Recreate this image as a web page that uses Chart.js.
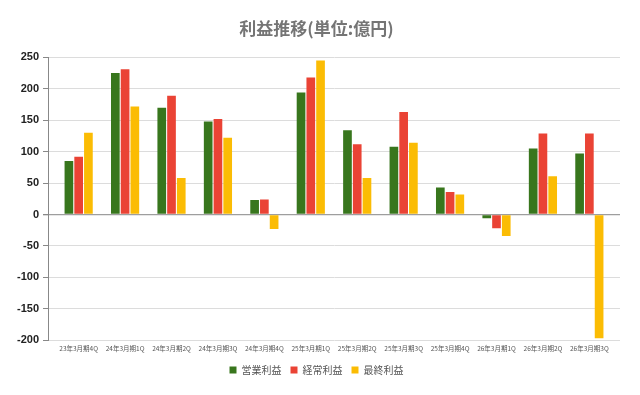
<!DOCTYPE html>
<html>
<head>
<meta charset="utf-8">
<script src="https://cdn.jsdelivr.net/npm/chart.js@4.4.1/dist/chart.umd.min.js"></script>
<style>
html,body{margin:0;padding:0;background:#fff;}
#wrap{width:640px;height:395px;}
</style>
</head>
<body>
<div id="wrap"><canvas id="c" width="640" height="395"></canvas></div>
<script>
const categories = ['23年3月期4Q','24年3月期1Q','24年3月期2Q','24年3月期3Q','24年3月期4Q','25年3月期1Q','25年3月期2Q','25年3月期3Q','25年3月期4Q','26年3月期1Q','26年3月期2Q','26年3月期3Q'];
const operatingProfit = [85, 225, 170, 148, 23, 194, 134, 108, 43, -6, 105, 97];
const ordinaryProfit = [92, 231, 189, 152, 24, 218, 112, 163, 36, -22, 129, 129];
const netProfit = [130, 172, 58, 122, -23, 245, 58, 114, 32, -34, 61, -197];
const seriesNames = ['営業利益', '経常利益', '最終利益'];
const yTickLabels = [250, 200, 150, 100, 50, 0, -50, -100, -150, -200];

const FONT = "Arial, 'Liberation Sans', 'Noto Sans CJK JP', sans-serif";
const CJK = "'Noto Sans CJK JP', 'Liberation Sans', sans-serif";
const PAD = 0.16;

new Chart(document.getElementById('c'), {
  type: 'bar',
  data: {
    labels: categories,
    datasets: [
      {label: seriesNames[0], data: operatingProfit, backgroundColor: '#38761d'},
      {label: seriesNames[1], data: ordinaryProfit, backgroundColor: '#ea4335'},
      {label: seriesNames[2], data: netProfit, backgroundColor: '#fbbc04'}
    ]
  },
  options: {
    responsive: false,
    animation: false,
    devicePixelRatio: 1,
    categoryPercentage: 0.63,
    barPercentage: 0.89,
    layout: {padding: {left: 13, right: 20, top: 0, bottom: 10}},
    plugins: {
      title: {
        display: true,
        text: '利益推移(単位:億円)',
        color: '#757575',
        font: {family: CJK, size: 17, weight: 'bold'},
        padding: {top: 18, bottom: 19}
      },
      legend: {
        position: 'bottom',
        labels: {
          boxWidth: 7, boxHeight: 7,
          color: '#555',
          font: {family: CJK, size: 10},
          padding: 9
        }
      },
      tooltip: {enabled: false}
    },
    scales: {
      x: {
        offset: true,
        afterBuildTicks: (s) => { s._startValue -= PAD; s._valueRange += 2 * PAD; },
        grid: {display: false, drawTicks: false},
        border: {display: false},
        ticks: {
          color: '#555',
          font: {family: CJK, size: 6.5},
          padding: 4,
          maxRotation: 0,
          autoSkip: false
        }
      },
      y: {
        min: -200,
        max: 250,
        ticks: {
          stepSize: 25,
          color: '#222',
          font: {family: FONT, size: 11, weight: 'bold'},
          padding: 4,
          callback: (v) => (yTickLabels.includes(v) ? String(v) : '')
        },
        grid: {
          color: (ctx) => {
            const v = ctx.tick && ctx.tick.value;
            if (v === 0) return '#9e9e9e';
            return yTickLabels.includes(v) ? '#dcdcdc' : '#ebebeb';
          },
          lineWidth: (ctx) => (ctx.tick && ctx.tick.value === 0 ? 1.3 : 1),
          tickColor: (ctx) => (yTickLabels.includes(ctx.tick && ctx.tick.value) ? '#888' : 'rgba(0,0,0,0)'),
          tickLength: 5
        },
        border: {display: true, color: '#888'}
      }
    }
  }
});
</script>
</body>
</html>
